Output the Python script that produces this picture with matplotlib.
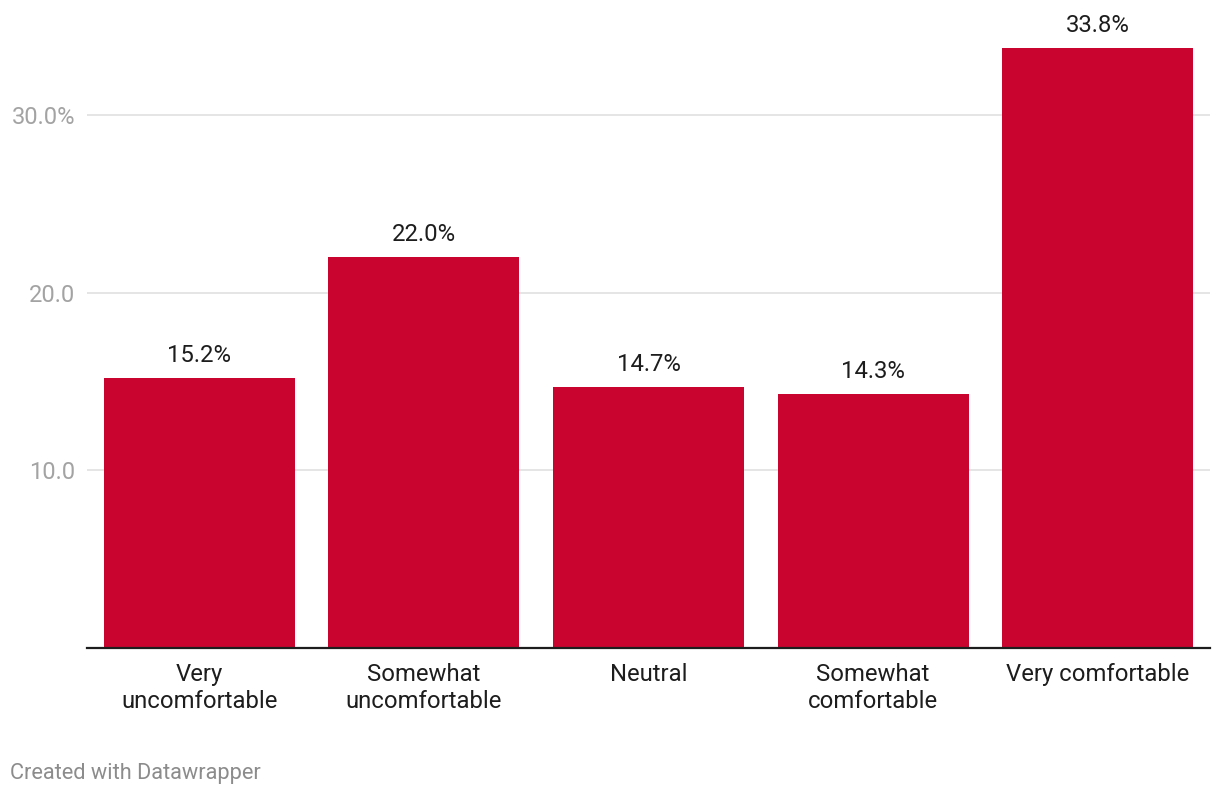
import matplotlib.pyplot as plt

plt.rcParams['font.family'] = ['Roboto', 'DejaVu Sans']

categories = ['Very\nuncomfortable', 'Somewhat\nuncomfortable', 'Neutral',
              'Somewhat\ncomfortable', 'Very comfortable']
values = [15.2, 22.0, 14.7, 14.3, 33.8]
yticks = [10, 20, 30]
ytick_labels = ['10.0', '20.0', '30.0%']

fig = plt.figure(figsize=(12.2, 7.96), dpi=100)
ax = fig.add_axes([87 / 1220, 1 - 648 / 796, 1123 / 1220, (648 - 35.6) / 796])

x = range(len(values))
ax.bar(x, values, width=0.851, color='#c9052f', zorder=2)

for xi, v in zip(x, values):
    ax.annotate(f'{v:.1f}%', (xi, v), xytext=(0, 16.5), textcoords='offset points',
                ha='center', va='center', fontsize=17.2, color='#1d1d1d')

ax.set_xlim(-0.5, 4.5)
ax.set_ylim(0, 34.5)
ax.set_yticks(yticks)
ax.set_yticklabels(ytick_labels)
ax.set_xticks(list(x))
ax.set_xticklabels(categories, fontsize=17.2, color='#1d1d1d', linespacing=1.22)

ax.grid(axis='y', color='#e3e3e3', linewidth=1.3, zorder=0)
ax.tick_params(axis='y', length=0, pad=8.6, labelsize=17, labelcolor='#a3a3a3')
ax.tick_params(axis='x', length=0, pad=10.5)

for s in ['top', 'right', 'left']:
    ax.spines[s].set_visible(False)
ax.spines['bottom'].set_color('#1d1d1d')
ax.spines['bottom'].set_linewidth(1.6)
ax.spines['bottom'].set_zorder(3)

fig.text(10 / 1220, 1 - 773 / 796, 'Created with Datawrapper', fontsize=15.7,
         color='#8c8c8c', ha='left', va='center')

fig.savefig('out.png', dpi=100)
